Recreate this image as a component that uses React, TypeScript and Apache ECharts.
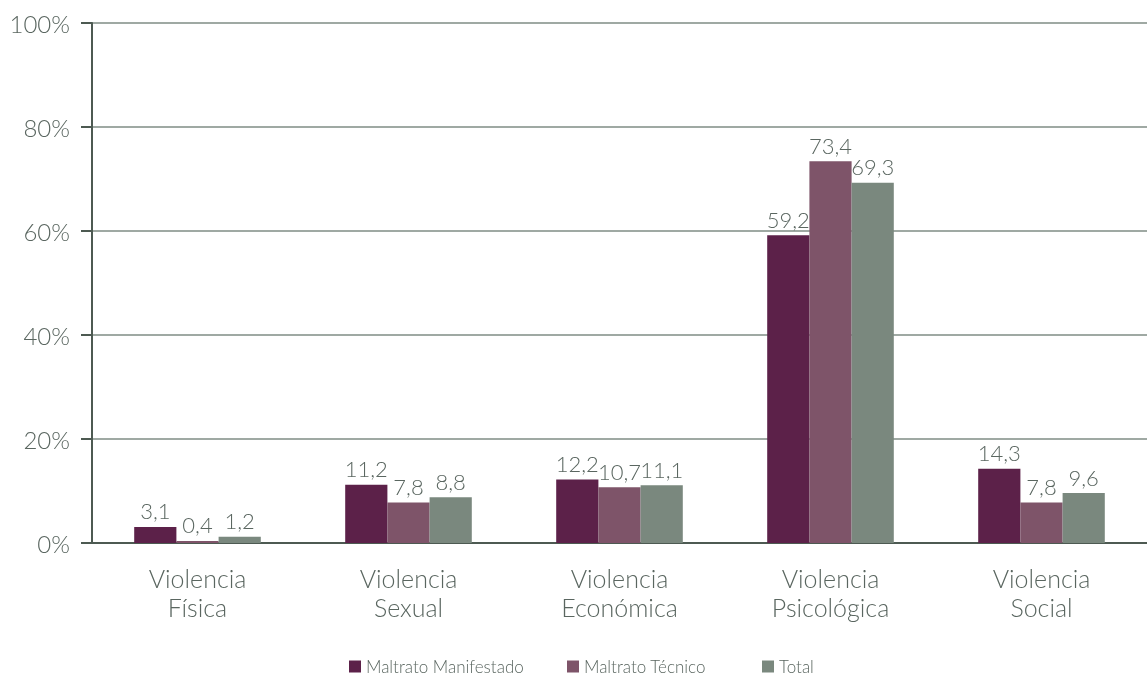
import React, { useEffect, useRef } from "react";
import * as echarts from "echarts";

const categories = ["Violencia\nFísica", "Violencia\nSexual", "Violencia\nEconómica", "Violencia\nPsicológica", "Violencia\nSocial"];
const seriesNames = ["Maltrato Manifestado", "Maltrato Técnico", "Total"];
const manifestado = [3.1, 11.2, 12.2, 59.2, 14.3];
const tecnico = [0.4, 7.8, 10.7, 73.4, 7.8];
const total = [1.2, 8.8, 11.1, 69.3, 9.6];
const colors = ["#5C2149", "#7E5469", "#7A887E"];
const yTicks = [0, 20, 40, 60, 80, 100];
const legendLefts = [349, 567, 762];

const FONT = "Lato, 'Open Sans', sans-serif";
const TEXT = "#5A6660";

export default function App() {
  const ref = useRef<HTMLDivElement>(null);
  useEffect(() => {
    const chart = echarts.init(ref.current!, null, { renderer: "svg" });
    const data = [manifestado, tecnico, total];
    chart.setOption({
      animation: false,
      textStyle: { fontFamily: FONT, fontWeight: 300 },
      grid: { left: 92, top: 23, bottom: 137, right: -10 },
      legend: seriesNames.map((name, i) => ({
        bottom: 5,
        left: legendLefts[i],
        padding: 0,
        itemWidth: 12,
        itemHeight: 12,
        icon: "rect",
        textStyle: { fontSize: 17, color: TEXT, fontFamily: FONT, fontWeight: 300 },
        data: [name],
      })),
      xAxis: {
        type: "category",
        data: categories,
        axisLine: { lineStyle: { color: "#4D5A52", width: 2 } },
        axisTick: { length: 11, lineStyle: { color: "#4D5A52", width: 2 } },
        axisLabel: { fontSize: 25, color: TEXT, margin: 20, lineHeight: 29, fontFamily: FONT, fontWeight: 300 },
      },
      yAxis: {
        type: "value",
        min: 0,
        max: 100,
        interval: 20,
        axisLine: { show: true, lineStyle: { color: "#4D5A52", width: 2 } },
        axisTick: { show: true, length: 11, lineStyle: { color: "#4D5A52", width: 2 } },
        splitLine: { lineStyle: { color: "#7F8C85", width: 1.5 } },
        axisLabel: {
          fontSize: 24,
          color: TEXT,
          margin: 22,
          fontFamily: FONT,
          fontWeight: 300,
          formatter: (v: number) => (yTicks.includes(v) ? v + "%" : ""),
        },
      },
      series: seriesNames.map((name, i) => ({
        name,
        type: "bar",
        data: data[i],
        barGap: "0%",
        barCategoryGap: "40%",
        itemStyle: { color: colors[i] },
        label: {
          show: true,
          position: "top",
          distance: 5,
          fontSize: 22,
          color: TEXT,
          fontFamily: FONT,
          fontWeight: 300,
          formatter: (p: any) => String(p.value).replace(".", ","),
        },
      })),
    });
    return () => chart.dispose();
  }, []);
  return <div ref={ref} style={{ position: "fixed", left: 0, top: 0, width: 1147, height: 680 }} />;
}
